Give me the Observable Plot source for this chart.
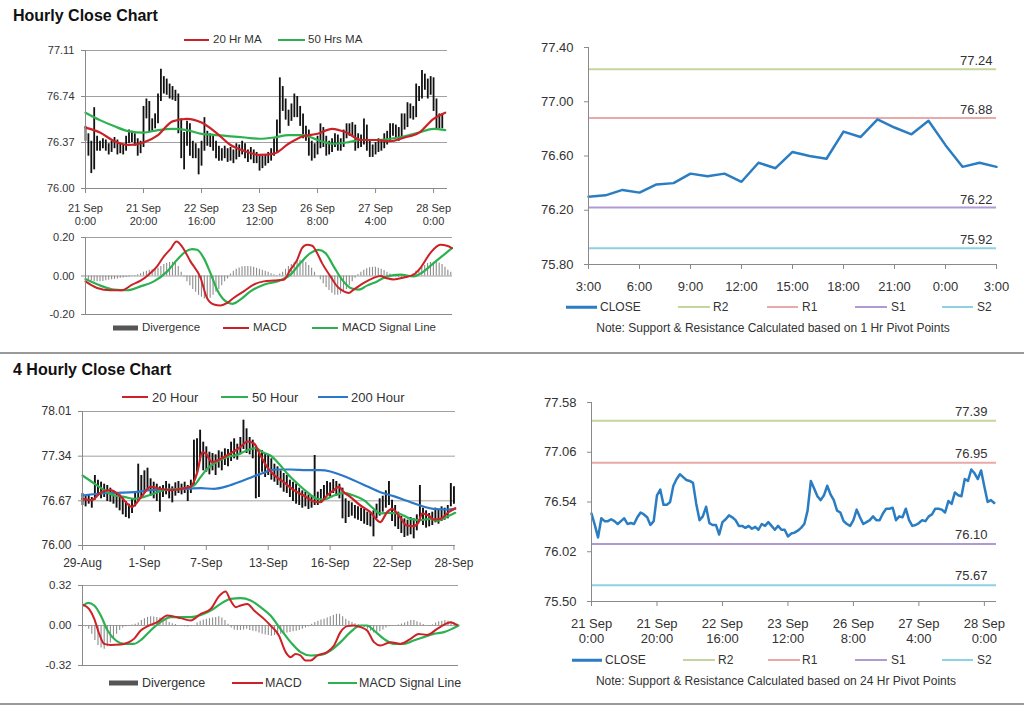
<!DOCTYPE html>
<html><head><meta charset="utf-8">
<script src="https://cdn.jsdelivr.net/npm/d3@7"></script>
<script src="https://cdn.jsdelivr.net/npm/@observablehq/plot@0.6"></script>
<style>
body{margin:0;background:#fff;font-family:"Liberation Sans",Arial,sans-serif;color:#333}
#root{position:relative;width:1024px;height:706px;overflow:hidden;background:#fff}
.t{position:absolute;white-space:nowrap;transform:translateY(-50%);line-height:1}
.sw{position:absolute;transform:translateY(-50%)}
</style></head><body><div id="root"></div>
<script>
// ---------- categories / tick labels ----------
const hourTickIdx = [0,20,40,60,80,100,120];
const hourTickLabels = ["21 Sep\n0:00","21 Sep\n20:00","22 Sep\n16:00","23 Sep\n12:00","26 Sep\n8:00","27 Sep\n4:00","28 Sep\n0:00"];
const fourTickIdx = [0,20,40,60,80,100,120];
const fourTickLabels = ["29-Aug","1-Sep","7-Sep","13-Sep","16-Sep","22-Sep","28-Sep"];
const pivotHourTicks = [0,3,6,9,12,15,18,21,24];
const pivotHourLabels = ["3:00","6:00","9:00","12:00","15:00","18:00","21:00","0:00","3:00"];
const levelNames = ["R2","R1","S1","S2"];
const hourLevels = [77.24,76.88,76.22,75.92];
const dayLevels = [77.39,76.95,76.10,75.67];

// ---------- hourly series (21 Sep 0:00 .. 28 Sep) ----------
const hourClose = [76.42,76.30,76.17,76.37,76.34,76.34,76.36,76.34,76.31,76.34,
 76.37,76.31,76.32,76.31,76.38,76.43,76.41,76.38,76.30,76.34,
 76.61,76.67,76.51,76.51,76.54,76.71,76.78,76.83,76.80,76.77,
 76.76,76.74,76.52,76.35,76.39,76.49,76.32,76.30,76.30,76.20,
 76.33,76.36,76.40,76.38,76.35,76.29,76.29,76.27,76.29,76.26,
 76.28,76.25,76.31,76.29,76.33,76.29,76.25,76.29,76.25,76.25,
 76.18,76.21,76.22,76.24,76.27,76.31,76.45,76.76,76.68,76.60,
 76.56,76.61,76.71,76.62,76.56,76.45,76.43,76.34,76.31,76.29,
 76.35,76.46,76.38,76.31,76.33,76.35,76.39,76.35,76.35,76.42,
 76.47,76.47,76.48,76.35,76.39,76.38,76.47,76.35,76.29,76.30,
 76.32,76.35,76.34,76.39,76.41,76.47,76.47,76.46,76.43,76.55,
 76.52,76.64,76.61,76.60,76.78,76.76,76.88,76.84,76.78,76.87,
 76.70,76.54,76.56,76.53];
const hourHigh = [76.50,76.44,76.38,76.65,76.42,76.38,76.40,76.39,76.36,76.38,
 76.41,76.39,76.36,76.35,76.42,76.47,76.46,76.44,76.40,76.38,
 76.66,76.72,76.70,76.56,76.60,76.76,76.96,76.90,76.88,76.84,
 76.82,76.79,76.76,76.56,76.45,76.54,76.52,76.38,76.36,76.32,
 76.38,76.57,76.46,76.44,76.42,76.38,76.34,76.32,76.34,76.32,
 76.33,76.31,76.36,76.35,76.38,76.36,76.31,76.33,76.31,76.29,
 76.27,76.26,76.27,76.29,76.32,76.40,76.55,76.89,76.82,76.72,
 76.63,76.68,76.76,76.74,76.66,76.60,76.50,76.47,76.38,76.36,
 76.42,76.52,76.49,76.42,76.38,76.40,76.44,76.43,76.40,76.47,
 76.52,76.52,76.53,76.51,76.44,76.43,76.56,76.51,76.38,76.35,
 76.37,76.40,76.39,76.44,76.46,76.52,76.52,76.51,76.49,76.60,
 76.60,76.69,76.68,76.66,76.84,76.82,76.95,76.92,76.88,76.90,
 76.89,76.72,76.60,76.60];
const hourLow = [76.38,76.26,76.12,76.15,76.30,76.30,76.32,76.30,76.27,76.29,
 76.32,76.27,76.28,76.27,76.30,76.36,76.37,76.34,76.26,76.28,
 76.33,76.56,76.45,76.46,76.48,76.52,76.70,76.76,76.75,76.72,
 76.71,76.70,76.44,76.24,76.15,76.34,76.26,76.24,76.24,76.11,
 76.18,76.30,76.34,76.33,76.30,76.24,76.22,76.22,76.24,76.21,
 76.22,76.20,76.23,76.25,76.27,76.24,76.21,76.23,76.20,76.20,
 76.14,76.16,76.18,76.20,76.22,76.26,76.29,76.44,76.62,76.55,
 76.50,76.54,76.57,76.57,76.50,76.40,76.38,76.26,76.22,76.24,
 76.27,76.32,76.33,76.26,76.27,76.29,76.33,76.30,76.30,76.33,
 76.40,76.42,76.42,76.30,76.32,76.33,76.35,76.30,76.25,76.25,
 76.27,76.29,76.30,76.32,76.35,76.38,76.42,76.41,76.38,76.40,
 76.47,76.49,76.56,76.55,76.57,76.70,76.72,76.79,76.72,76.75,
 76.62,76.48,76.48,76.48];
const hourMaX = [0,5,10,15,20,25,30,35,40,45,50,55,60,65,70,75,80,85,90,95,100,105,110,115,120,124];
const hourMa20 = [76.49,76.45,76.38,76.35,76.37,76.43,76.54,76.56,76.53,76.45,76.35,76.30,76.27,76.28,76.36,76.42,76.44,76.48,76.45,76.39,76.39,76.38,76.41,76.45,76.56,76.61];
const hourMa50 = [76.61,76.55,76.50,76.46,76.45,76.47,76.48,76.47,76.44,76.43,76.42,76.41,76.40,76.41,76.43,76.43,76.39,76.36,76.37,76.39,76.39,76.40,76.42,76.45,76.48,76.47];
const hourMacdX = [0,4,8.6,12.6,16.1,19,21.8,24.7,27,29.3,31.4,33.3,36.2,39.7,41.9,44.3,46.6,48.9,51.1,54.6,58,61.5,64.9,68.4,70.7,73,74.7,76.4,78.2,79.9,81.6,84.5,86.8,89.1,90.8,92.5,96,99.4,101.7,104,106.3,109.8,113.2,115.5,119,122.4,124.7,126.4];
const hourMacd = [-0.028,-0.062,-0.074,-0.074,-0.045,-0.024,0.007,0.050,0.101,0.140,0.179,0.153,0.076,-0.010,-0.114,-0.148,-0.153,-0.140,-0.114,-0.080,-0.045,-0.028,-0.023,-0.019,0.033,0.084,0.145,0.162,0.157,0.119,0.067,-0.002,-0.054,-0.080,-0.088,-0.071,-0.036,-0.010,0.000,-0.012,-0.018,-0.008,0.007,0.041,0.120,0.162,0.157,0.145];
const hourSigX = [0,5.2,9.8,14.4,19,23.6,28.2,31.6,34.5,36.8,38.5,40.8,43.1,45.4,48.3,50.6,53.4,56.9,61.5,66.1,70.7,74.1,77.6,80.5,82.8,85.6,88.5,91.4,94.3,97.1,100.6,104,108.6,113.2,116.7,120.1,123.6,126.4];
const hourSig = [-0.016,-0.050,-0.071,-0.074,-0.054,-0.028,0.024,0.084,0.127,0.140,0.136,0.093,0.015,-0.071,-0.131,-0.145,-0.123,-0.080,-0.045,-0.028,0.007,0.067,0.119,0.136,0.119,0.050,-0.019,-0.062,-0.071,-0.050,-0.028,-0.002,0.007,-0.002,0.024,0.067,0.110,0.145];
const hourDiv = [-0.01,-0.02,-0.025,-0.03,-0.03,-0.03,-0.028,-0.025,-0.022,-0.02,-0.018,-0.015,-0.012,-0.01,-0.008,
 -0.005,-0.002,0.002,0.006,0.012,
 0.02,0.025,0.03,0.032,0.035,0.04,0.05,0.06,0.065,0.07,0.072,0.07,0.05,0.02,
 -0.005,-0.03,-0.05,-0.07,-0.085,-0.1,-0.11,-0.12,-0.12,-0.115,-0.1,-0.085,-0.07,-0.05,-0.03,-0.015,
 0.01,0.025,0.035,0.042,0.048,0.05,0.05,0.048,0.045,0.04,0.035,0.03,0.025,0.02,0.012,0.006,0.002,0.01,
 0.02,0.035,0.05,0.06,0.07,0.08,0.082,0.078,0.07,0.055,0.04,0.02,0.0,
 -0.02,-0.04,-0.06,-0.075,-0.09,-0.1,-0.1,-0.095,-0.085,-0.07,-0.05,-0.03,-0.012,
 0.008,0.02,0.03,0.038,0.043,0.045,0.045,0.04,0.035,0.028,0.02,0.01,
 0.002,-0.005,-0.008,-0.01,-0.008,-0.004,0.002,
 0.012,0.025,0.035,0.045,0.055,0.065,0.07,0.072,0.07,0.068,0.06,0.045,0.03,0.02];

// ---------- pivot chart: last 24 hourly closes (3:00 .. 3:00) ----------
const pivotClose = [76.30,76.31,76.35,76.33,76.39,76.40,76.47,76.45,76.47,76.41,76.55,76.51,76.63,76.60,76.58,76.78,76.74,76.87,76.81,76.76,76.86,76.68,76.52,76.55,76.52];

// ---------- 4-hourly series (29 Aug .. 28 Sep) ----------
const fourHigh = [76.78,76.74,76.76,76.72,77.05,76.98,76.95,76.92,76.90,76.86,
 76.82,76.78,76.76,76.72,76.66,76.62,76.70,76.78,77.22,77.05,
 77.12,77.16,77.00,76.95,76.92,76.88,76.90,76.96,76.92,76.88,
 76.94,76.96,76.92,76.95,76.90,76.98,77.58,77.60,77.73,77.55,
 77.48,77.40,77.38,77.36,77.42,77.40,77.45,77.44,77.55,77.60,
 77.52,77.62,77.88,77.75,77.62,77.58,77.50,77.40,77.42,77.38,
 77.35,77.30,77.22,77.18,77.12,77.08,77.05,76.98,76.95,76.92,
 76.86,76.82,76.80,76.76,76.74,77.35,76.80,76.84,76.90,76.96,
 76.94,76.99,76.96,76.92,76.86,76.70,76.66,76.64,76.60,76.58,
 76.56,76.54,76.50,76.48,76.52,76.62,76.70,76.74,76.82,76.96,
 76.68,76.60,76.50,76.44,76.40,76.38,76.42,76.40,76.46,76.90,
 76.56,76.52,76.48,76.50,76.56,76.54,76.58,76.56,76.60,76.93,76.88];
const fourLow = [76.60,76.58,76.62,76.56,76.68,76.74,76.70,76.72,76.66,76.65,
 76.62,76.56,76.52,76.46,76.42,76.40,76.48,76.58,76.66,76.70,
 76.78,76.82,76.74,76.70,76.66,76.50,76.72,76.76,76.70,76.64,
 76.74,76.78,76.76,76.78,76.66,76.78,76.90,77.10,77.26,77.12,
 77.10,77.06,77.12,77.05,77.16,77.12,77.20,77.18,77.26,77.30,
 77.28,77.36,77.44,77.38,77.36,77.30,76.70,76.72,77.10,77.02,
 77.05,76.98,76.95,76.90,76.86,76.80,76.78,76.72,76.66,76.62,
 76.60,76.56,76.58,76.54,76.56,76.60,76.60,76.64,76.68,76.74,
 76.72,76.78,76.74,76.70,76.40,76.33,76.42,76.44,76.40,76.38,
 76.36,76.32,76.30,76.28,76.13,76.40,76.44,76.50,76.56,76.60,
 76.36,76.28,76.24,76.18,76.12,76.14,76.16,76.10,76.22,76.40,
 76.30,76.26,76.28,76.30,76.34,76.32,76.36,76.38,76.40,76.58,76.62];
const fourMa20X = [0,3,6,9,12,16,19,22,25,28.5,31.7,34.9,37.1,38.7,39.8,41.9,44.6,47.8,51.1,53.2,55.4,57.5,59.6,61.8,65,68.3,71.5,74.7,76.9,79,81.2,82.8,84.4,86.5,89.8,93,96.2,98.4,100,102.2,104.8,107,108.6,109.7,111.8,113.4,115.6,118.3,120.4];
const fourMa20 = [76.70,76.68,76.80,76.83,76.75,76.58,76.73,76.88,76.85,76.83,76.85,76.88,77.10,77.40,77.38,77.25,77.30,77.38,77.48,77.56,77.53,77.35,77.18,77.06,76.95,76.83,76.75,76.66,76.65,76.75,76.83,76.88,76.80,76.73,76.60,76.50,76.35,76.50,76.55,76.45,76.30,76.29,76.35,76.48,76.45,76.39,76.40,76.50,76.56];
const fourMa50X = [0,3.8,7,10.2,13.4,16.6,19.9,23.1,26.3,29.6,32.8,36,38.2,40.3,43.5,46.8,50,53.2,55.9,58.6,60.7,63.4,66.1,69.4,72.6,75.8,78,81.2,84.4,87.6,90.9,94.1,96.2,98.9,102.2,105.9,109.1,112.4,114.5,117.7,120.4];
const fourMa50 = [77.05,76.93,76.83,76.75,76.73,76.70,76.73,76.78,76.83,76.84,76.86,76.90,77.03,77.15,77.26,77.33,77.36,77.43,77.46,77.39,77.35,77.23,77.08,76.93,76.80,76.70,76.69,76.75,76.79,76.75,76.68,76.55,76.48,76.49,76.48,76.40,76.38,76.40,76.37,76.43,76.49];
const fourMa200X = [0,5.9,11.3,16.6,22,27.4,32.8,38.2,42.5,46.8,51.1,55.4,58.6,60.7,62.9,67.2,72.6,76.9,80.1,83.3,87.6,91.9,96.2,100.5,104.8,109.1,113.4,117.7,120.4];
const fourMa200 = [76.75,76.78,76.79,76.80,76.83,76.84,76.85,76.86,76.85,76.89,76.96,77.04,77.09,77.13,77.14,77.14,77.13,77.13,77.11,77.06,76.98,76.89,76.80,76.74,76.67,76.60,76.55,76.54,76.55];
const fourMacdX = [0.3,2.1,3.8,5.4,7,9.1,12.4,15,16.6,18.8,21.5,24.2,27.4,29,31.7,34.9,38.2,41.4,44.1,46.2,47.8,49.5,51.1,53.2,55.4,58.6,60.7,63.4,65.6,67.2,68.8,70.4,72,73.7,75.8,79,81.2,83.3,85.5,87.6,89.8,91.9,94.1,96.2,99.4,102.7,105.9,108.5,111.3,114.5,116.7,118.8,120.9];
const fourMacd = [0.165,0.133,0.053,-0.067,-0.147,-0.155,-0.152,-0.133,-0.107,-0.040,0.000,0.027,0.080,0.075,0.059,0.040,0.093,0.133,0.235,0.272,0.200,0.147,0.160,0.173,0.120,0.053,0.000,-0.080,-0.213,-0.253,-0.227,-0.240,-0.280,-0.280,-0.240,-0.213,-0.160,-0.053,-0.005,0.000,-0.013,-0.040,-0.133,-0.160,-0.133,-0.147,-0.107,-0.067,-0.075,-0.027,0.005,0.027,0.005];
const fourSigX = [0.3,1.8,3.8,5.9,8.1,10.8,13.4,16.6,19.3,22,25.2,28.5,31.7,34.9,38.2,41.4,44.6,47.8,51.1,54.3,57.5,60.7,63.9,67.2,70.4,73.7,76.9,80.1,83.3,86.5,89.8,91.9,94.1,97.3,100.5,103.7,106.9,110.2,113.4,116.7,119.3,121.4];
const fourSig = [0.160,0.181,0.160,0.080,-0.040,-0.120,-0.147,-0.147,-0.107,-0.040,0.027,0.067,0.067,0.067,0.085,0.120,0.173,0.213,0.219,0.200,0.147,0.080,-0.027,-0.133,-0.213,-0.240,-0.235,-0.200,-0.133,-0.053,0.000,0.000,-0.040,-0.107,-0.147,-0.147,-0.120,-0.093,-0.067,-0.053,-0.027,0.000];
const fourDiv = [0.0,-0.01,-0.03,
 -0.07,-0.12,-0.16,-0.18,-0.19,-0.17,-0.14,
 -0.10,-0.07,-0.04,-0.02,
 -0.01,-0.005,0.005,0.01,0.02,
 0.04,0.055,0.065,0.07,0.068,0.065,0.06,0.05,0.04,
 0.025,0.015,0.008,0.0,-0.005,-0.01,-0.012,
 -0.008,0.0,
 0.02,0.035,0.045,0.05,0.055,0.06,0.065,0.07,0.06,0.04,
 0.01,-0.02,-0.035,-0.04,-0.04,-0.035,-0.03,-0.04,-0.045,-0.05,-0.06,-0.07,
 -0.075,-0.08,-0.085,-0.08,-0.075,-0.07,-0.065,
 -0.06,-0.055,-0.05,-0.045,-0.04,-0.03,-0.02,-0.01,
 0.01,0.025,0.035,0.045,0.05,0.06,0.07,0.08,0.09,0.09,0.07,0.05,
 0.035,0.025,0.015,0.008,0.0,
 -0.015,-0.03,-0.045,-0.06,-0.06,-0.05,-0.035,
 -0.02,-0.01,-0.005,-0.002,0.005,0.012,
 0.02,0.03,0.04,0.04,0.03,0.02,
 0.008,0.0,-0.005,0.005,
 0.02,0.03,0.035,0.04,0.035,0.03,0.02,0.01];

// ---------- drawing ----------
const root = document.getElementById("root");
const FONT = "'Liberation Sans', Arial, sans-serif";
const RED = "#cc2227", GREEN = "#2db150", BLUE = "#2a78c8", CLOSEBLUE = "#2a7dc2";
const levelColors = ["#c3d69b","#e8a9a9","#b09ad4","#8fd0e2"];
const AXIS = "#8a8a8a", GRID = "#a0a0a0";

function place(svg, left, top){
  svg.style.position = "absolute"; svg.style.left = left + "px"; svg.style.top = top + "px";
  root.appendChild(svg);
}
function style(size){ return {fontFamily: FONT, fontSize: size + "px", color: "#333", background: "transparent", overflow: "visible"}; }
function label(text, x, y, size, extra = {}){
  const d = document.createElement("div"); d.className = "t";
  d.style.left = x + "px"; d.style.top = y + "px"; d.style.fontSize = size + "px";
  Object.assign(d.style, extra); d.textContent = text; root.appendChild(d);
}
function swatch(x1, x2, y, color, h = 2){
  const d = document.createElement("div"); d.className = "sw";
  d.style.left = x1 + "px"; d.style.top = y + "px"; d.style.width = (x2 - x1) + "px";
  d.style.height = h + "px"; d.style.background = color; root.appendChild(d);
}
function hline(y){
  const d = document.createElement("div"); d.style.position = "absolute";
  d.style.left = "0px"; d.style.top = y + "px"; d.style.width = "1024px"; d.style.height = "1.5px";
  d.style.background = "#9a9a9a"; root.appendChild(d);
}
const f2 = d => d.toFixed(2);

// Titles + separators
label("Hourly Close Chart", 13, 16, 16, {fontWeight: "bold", color: "#111"});
label("4 Hourly Close Chart", 13, 370, 16, {fontWeight: "bold", color: "#111"});
hline(352); hline(703);

// ===== A: hourly price with MAs =====
const hourBars = hourHigh.map((hi, i) => ({i, hi, lo: hourLow[i]}));
const yTicksA = [76.00, 76.37, 76.74, 77.11];
place(Plot.plot({
  width: 460, height: 184, marginLeft: 85, marginRight: 13, marginTop: 6, marginBottom: 40,
  x: {domain: [0, 124.8], label: null}, y: {domain: [76.00, 77.11], label: null}, style: style(11),
  marks: [
    Plot.ruleY(yTicksA.slice(1), {stroke: GRID}),
    Plot.ruleX(hourBars, {x: "i", y1: "lo", y2: "hi", stroke: "#111", strokeWidth: 1.8}),
    Plot.line(hourMa50, {x: (d, i) => hourMaX[i], y: d => d, stroke: GREEN, strokeWidth: 2.2, curve: "monotone-x"}),
    Plot.line(hourMa20, {x: (d, i) => hourMaX[i], y: d => d, stroke: RED, strokeWidth: 2.2, curve: "monotone-x"}),
    Plot.ruleY([76.00], {stroke: AXIS}), Plot.ruleX([0], {stroke: AXIS}),
    Plot.axisY({ticks: yTicksA, tickFormat: f2, tickSize: 4, tickPadding: 7, stroke: AXIS, label: null}),
    Plot.axisX({ticks: hourTickIdx, tickFormat: d => hourTickLabels[hourTickIdx.indexOf(d)], tickSize: 5, tickPadding: 9, lineHeight: 1.2, stroke: AXIS, label: null})
  ]
}), 0, 44);
swatch(184, 209, 40, RED); label("20 Hr MA", 213, 40, 11.5);
swatch(278, 305, 40, GREEN); label("50 Hrs MA", 308, 40, 11.5);

// ===== B: hourly MACD =====
const hourDivData = hourDiv.map((d, i) => ({i, d}));
place(Plot.plot({
  width: 462, height: 90, marginLeft: 85, marginRight: 10, marginTop: 7, marginBottom: 6,
  x: {domain: [0, 126.6], label: null, axis: null}, y: {domain: [-0.2, 0.2], label: null}, style: style(11),
  marks: [
    Plot.ruleY([0.2, 0], {stroke: GRID}),
    Plot.ruleX(hourDivData, {x: "i", y1: 0, y2: "d", stroke: "#8c8c8c", strokeWidth: 1.1}),
    Plot.line(hourSig, {x: (d, i) => hourSigX[i], y: d => d, stroke: GREEN, strokeWidth: 2.2, curve: "monotone-x"}),
    Plot.line(hourMacd, {x: (d, i) => hourMacdX[i], y: d => d, stroke: RED, strokeWidth: 2, curve: "monotone-x"}),
    Plot.ruleY([-0.2], {stroke: AXIS}), Plot.ruleX([0], {stroke: AXIS}),
    Plot.axisY({ticks: [-0.2, 0, 0.2], tickFormat: f2, tickSize: 4, tickPadding: 7, stroke: AXIS, label: null})
  ]
}), 0, 230);
swatch(113, 138, 328, "#555", 5); label("Divergence", 142, 328, 11.5);
swatch(223, 249, 328, RED); label("MACD", 253, 328, 11.5);
swatch(312, 338, 328, GREEN); label("MACD Signal Line", 342, 328, 11.5);

// ===== C: hourly pivot chart =====
place(Plot.plot({
  width: 486, height: 258, marginLeft: 68, marginRight: 10, marginTop: 7, marginBottom: 34,
  x: {domain: [0, 24], label: null}, y: {domain: [75.8, 77.4], label: null}, style: style(13),
  marks: [
    ...hourLevels.map((v, k) => Plot.ruleY([v], {stroke: levelColors[k], strokeWidth: 2})),
    Plot.text(hourLevels, {y: d => d, text: f2, frameAnchor: "right", textAnchor: "end", dx: -4, dy: -8, fontSize: 13, fill: "#333"}),
    Plot.line(pivotClose, {x: (d, i) => i, y: d => d, stroke: CLOSEBLUE, strokeWidth: 2.5}),
    Plot.ruleY([75.8], {stroke: AXIS}), Plot.ruleX([0], {stroke: AXIS}),
    Plot.axisY({ticks: [75.8, 76.2, 76.6, 77.0, 77.4], tickFormat: f2, tickSize: 4, tickPadding: 11, stroke: AXIS, label: null}),
    Plot.axisX({ticks: pivotHourTicks, tickFormat: d => pivotHourLabels[d / 3], tickSize: 5, tickPadding: 12, stroke: AXIS, label: null})
  ]
}), 520, 40);
swatch(566, 597, 307, CLOSEBLUE, 2.5); label("CLOSE", 600, 307, 12);
swatch(678, 710, 307, levelColors[0]); label(levelNames[0], 713, 307, 12);
swatch(767, 798, 307, levelColors[1]); label(levelNames[1], 802, 307, 12);
swatch(855, 887, 307, levelColors[2]); label(levelNames[2], 891, 307, 12);
swatch(942, 973, 307, levelColors[3]); label(levelNames[3], 977, 307, 12);
label("Note: Support & Resistance Calculated based on 1 Hr Pivot Points", 773, 328, 12, {transform: "translate(-50%,-50%)"});

// ===== D: 4-hourly price with MAs =====
const fourBars = fourHigh.map((hi, i) => ({i, hi, lo: fourLow[i]}));
const yTicksD = [76.00, 76.67, 77.34, 78.01];
place(Plot.plot({
  width: 462, height: 175, marginLeft: 82, marginRight: 7, marginTop: 9, marginBottom: 32,
  x: {domain: [0, 120.5], label: null}, y: {domain: [76.00, 78.01], label: null}, style: style(12),
  marks: [
    Plot.ruleY(yTicksD.slice(1), {stroke: GRID}),
    Plot.ruleX(fourBars, {x: "i", y1: "lo", y2: "hi", stroke: "#111", strokeWidth: 1.9}),
    Plot.line(fourMa200, {x: (d, i) => fourMa200X[i], y: d => d, stroke: BLUE, strokeWidth: 2.2, curve: "monotone-x"}),
    Plot.line(fourMa50, {x: (d, i) => fourMa50X[i], y: d => d, stroke: GREEN, strokeWidth: 2.2, curve: "monotone-x"}),
    Plot.line(fourMa20, {x: (d, i) => fourMa20X[i], y: d => d, stroke: RED, strokeWidth: 2.2, curve: "monotone-x"}),
    Plot.ruleY([76.00], {stroke: AXIS}), Plot.ruleX([0], {stroke: AXIS}),
    Plot.axisY({ticks: yTicksD, tickFormat: f2, tickSize: 4, tickPadding: 7, stroke: AXIS, label: null}),
    Plot.axisX({ticks: fourTickIdx, tickFormat: d => fourTickLabels[fourTickIdx.indexOf(d)], tickSize: 5, tickPadding: 8, stroke: AXIS, label: null})
  ]
}), 0, 402);
swatch(122, 148, 397, RED); label("20 Hour", 152, 397, 13);
swatch(221, 248, 397, GREEN); label("50 Hour", 252, 397, 13);
swatch(318, 348, 397, BLUE); label("200 Hour", 351, 397, 13);

// ===== E: 4-hourly MACD =====
const fourDivData = fourDiv.map((d, i) => ({i, d}));
place(Plot.plot({
  width: 465, height: 93, marginLeft: 82, marginRight: 7, marginTop: 7, marginBottom: 6,
  x: {domain: [0, 121.4], label: null, axis: null}, y: {domain: [-0.32, 0.32], label: null}, style: style(11.5),
  marks: [
    Plot.ruleY([0.32, 0], {stroke: GRID}),
    Plot.ruleX(fourDivData, {x: "i", y1: 0, y2: "d", stroke: "#8c8c8c", strokeWidth: 1.1}),
    Plot.line(fourSig, {x: (d, i) => fourSigX[i], y: d => d, stroke: GREEN, strokeWidth: 2.2, curve: "monotone-x"}),
    Plot.line(fourMacd, {x: (d, i) => fourMacdX[i], y: d => d, stroke: RED, strokeWidth: 2, curve: "monotone-x"}),
    Plot.ruleY([-0.32], {stroke: AXIS}), Plot.ruleX([0], {stroke: AXIS}),
    Plot.axisY({ticks: [-0.32, 0, 0.32], tickFormat: f2, tickSize: 4, tickPadding: 7, stroke: AXIS, label: null})
  ]
}), 0, 578);
swatch(109, 138, 683, "#555", 5); label("Divergence", 142, 683, 12.5);
swatch(232, 263, 683, RED); label("MACD", 265, 683, 12.5);
swatch(328, 357, 683, GREEN); label("MACD Signal Line", 359, 683, 12.5);

// ===== F: 24h pivot chart =====
place(Plot.plot({
  width: 486, height: 256, marginLeft: 71, marginRight: 10, marginTop: 7, marginBottom: 50,
  x: {domain: [0, 123.7], label: null}, y: {domain: [75.50, 77.58], label: null}, style: style(13),
  marks: [
    ...dayLevels.map((v, k) => Plot.ruleY([v], {stroke: levelColors[k], strokeWidth: 2})),
    Plot.text(dayLevels, {y: d => d, text: f2, frameAnchor: "right", textAnchor: "end", dx: -9, dy: -9, fontSize: 13, fill: "#333"}),
    Plot.line(hourClose, {x: (d, i) => i, y: d => d, stroke: CLOSEBLUE, strokeWidth: 2.5}),
    Plot.ruleY([75.50], {stroke: AXIS}), Plot.ruleX([0], {stroke: AXIS}),
    Plot.axisY({ticks: [75.50, 76.02, 76.54, 77.06, 77.58], tickFormat: f2, tickSize: 4, tickPadding: 11, stroke: AXIS, label: null}),
    Plot.axisX({ticks: hourTickIdx, tickFormat: d => hourTickLabels[hourTickIdx.indexOf(d)], tickSize: 5, tickPadding: 11, lineHeight: 1.15, stroke: AXIS, label: null})
  ]
}), 520, 395);
swatch(572, 602, 660, CLOSEBLUE, 2.5); label("CLOSE", 605, 660, 12);
swatch(683, 715, 660, levelColors[0]); label(levelNames[0], 718, 660, 12);
swatch(768, 800, 660, levelColors[1]); label(levelNames[1], 802, 660, 12);
swatch(855, 887, 660, levelColors[2]); label(levelNames[2], 891, 660, 12);
swatch(942, 973, 660, levelColors[3]); label(levelNames[3], 977, 660, 12);
label("Note: Support & Resistance Calculated based on 24 Hr Pivot Points", 776, 681, 12, {transform: "translate(-50%,-50%)"});
</script></body></html>
